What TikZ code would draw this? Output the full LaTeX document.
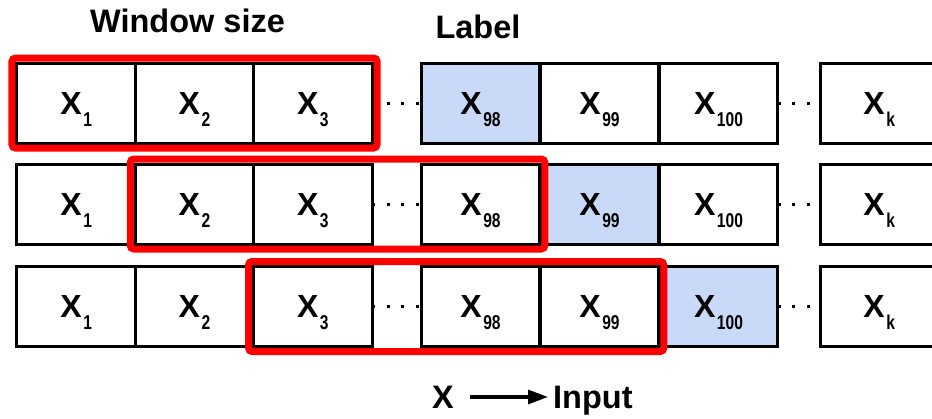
\documentclass[tikz,border=0pt]{standalone}
\usepackage{fontspec}
\setmainfont{Liberation Sans}
\usetikzlibrary{arrows.meta}
\definecolor{hl}{HTML}{C9DAF8}
\definecolor{winred}{HTML}{FF0000}
\newcommand\cellx[1]{X\kern1.5pt\raisebox{-12pt}{\scalebox{0.78}[1]{\fontsize{20}{20}\selectfont\bfseries #1}}}
\begin{document}
\begin{tikzpicture}[x=1pt,y=-1pt,
 cell/.style={draw=black, line width=3pt, fill=white, minimum width=118.5pt, minimum height=80pt, inner sep=0pt, outer sep=0pt, text height=22pt, text depth=0pt, font=\fontsize{32}{32}\selectfont\bfseries},
 hlcell/.style={cell, fill=hl},
 gapdots/.style={line width=3pt, dash pattern=on 3pt off 11.5pt},
 window/.style={draw=winred, line width=7pt, rounded corners=3.5pt},
 title/.style={font=\fontsize{32.5}{32.5}\selectfont\bfseries, anchor=base, inner sep=0pt}]
\useasboundingbox (0,0) rectangle (932,418);
\foreach \r/\y/\h in {1/103/98,2/204/99,3/306.5/100}{
  \foreach \c/\x in {1/76.2,2/194.5,3/312.8,98/480.5,99/599.5,100/718.5}{
    \ifnum\c=\h \def\st{hlcell}\else\def\st{cell}\fi
    \node[\st] (r\r-c\c) at (\x,\y) {\cellx{\c}};
  }
  \node[cell] (r\r-ck) at (879.25,\y) {\cellx{k}};
  \draw[gapdots] (r\r-c3.east) -- (r\r-c98.west);
  \draw[gapdots] (r\r-c100.east) -- (r\r-ck.west);
}
\draw[window] ([shift={(-5,-5)}]r1-c1.north west) rectangle ([shift={(5,5)}]r1-c3.south east);
\draw[window] ([shift={(-5,-5)}]r2-c2.north west) rectangle ([shift={(5,5)}]r2-c98.south east);
\draw[window] ([shift={(-5,-5)}]r3-c3.north west) rectangle ([shift={(5,5)}]r3-c99.south east);
\node[title] (ws) at (187.5,32) {Window size};
\node[title] (lb) at (478,38) {Label};
\node[title, text height=22pt, text depth=0pt] (lx) at (443,408) {X};
\node[title, anchor=base west, text height=22pt, text depth=0pt] (lin) at (553,408) {Input};
\draw[line width=3.2pt, -{Triangle[length=20pt,width=14pt]}, shorten <=16pt, shorten >=5pt] (lx.east) -- (lin.west);
\end{tikzpicture}
\end{document}
